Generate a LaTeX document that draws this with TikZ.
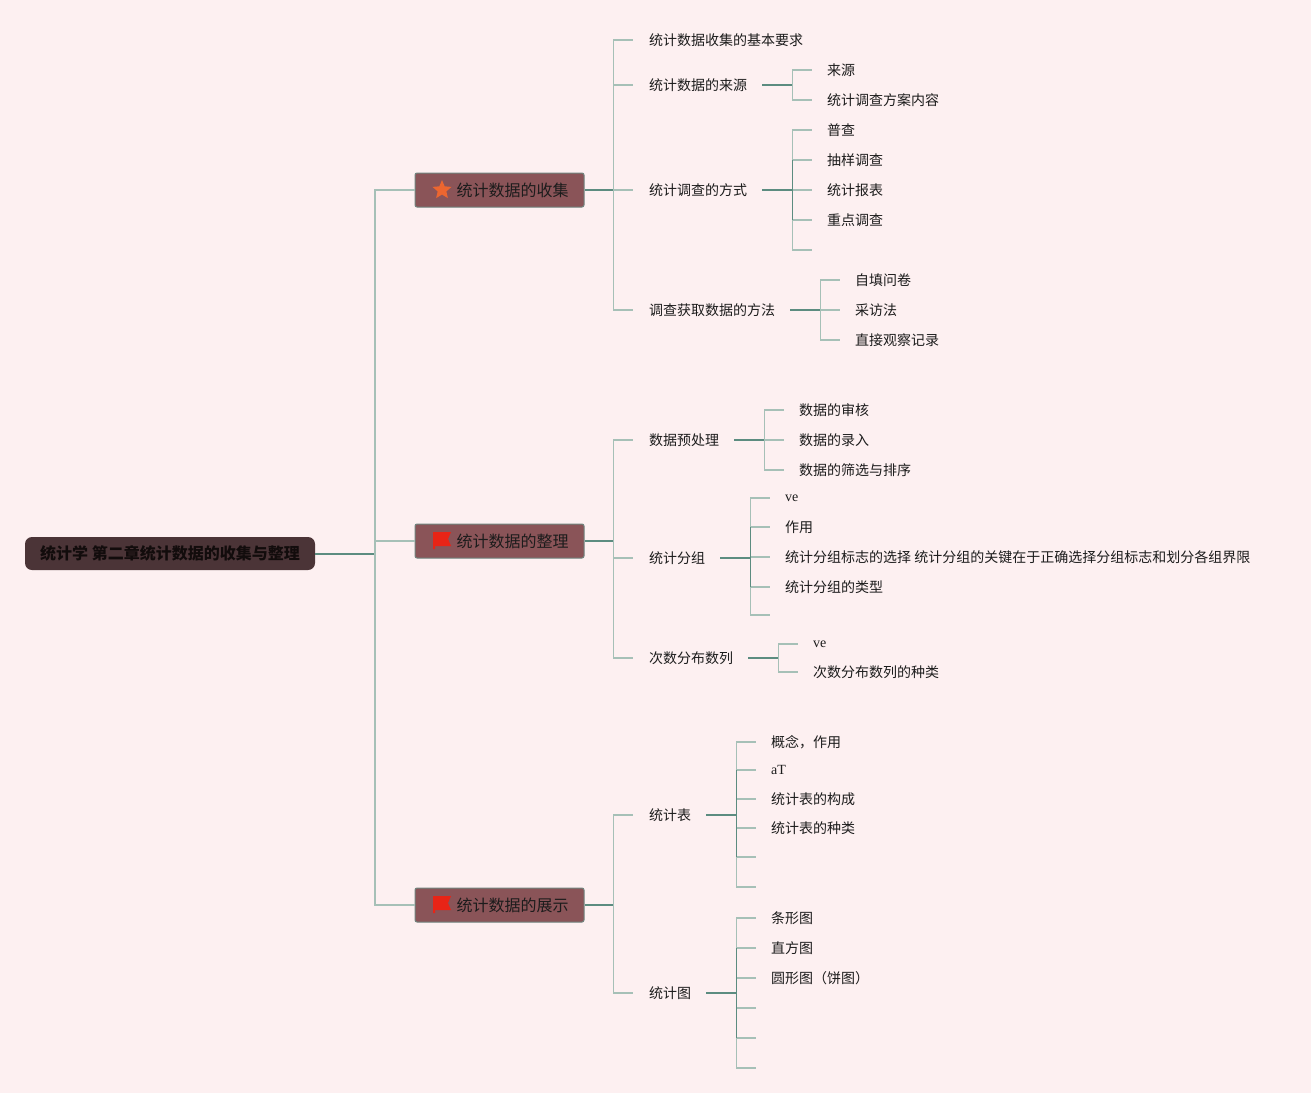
\documentclass[tikz,border=0pt]{standalone}
\usepackage{fontspec}
\setmainfont{Noto Sans CJK SC}
\newfontfamily\latinserif{Liberation Serif}
\usetikzlibrary{shapes.geometric}
\definecolor{bg}{RGB}{253,240,241}
\definecolor{lineL}{RGB}{166,192,183}
\definecolor{lineD}{RGB}{92,140,128}
\definecolor{rootF}{RGB}{75,52,55}
\definecolor{lvF}{RGB}{138,84,88}
\definecolor{lvD}{RGB}{112,132,126}
\definecolor{txt}{RGB}{28,28,28}
\definecolor{rtxt}{RGB}{18,12,12}
\definecolor{starC}{RGB}{236,102,48}
\definecolor{flagC}{RGB}{232,36,22}
\tikzset{
  t/.style={anchor=west, inner sep=0pt, text=txt, font=\fontsize{14}{16}\selectfont},
  lt/.style={draw=lineL, line width=1.4pt},
  dk/.style={draw=lineD, line width=2pt},
  dkv/.style={draw=lineD, line width=1.4pt},
  rootbox/.style={fill=rootF, rounded corners=7pt, minimum width=290pt, minimum height=33pt, inner sep=0pt, text=rtxt, font=\fontsize{16}{18}\selectfont\bfseries},
  lvbox/.style={fill=lvF, draw=lvD, line width=1pt, rounded corners=2pt, minimum width=169pt, minimum height=34pt, inner xsep=15.5pt, inner ysep=0pt, text=txt, font=\fontsize{16}{18}\selectfont},
}
\begin{document}
\begin{tikzpicture}[x=1pt,y=-1pt]
\fill[bg] (0,0) rectangle (1311,1093);
\useasboundingbox (0,0) rectangle (1311,1093);

% root and level 1
\node[rootbox] (root) at (170,553.5) {统计学 第二章统计数据的收集与整理};
\node[lvbox] (L1) at (499.5,190) {\hspace*{26pt}统计数据的收集};
\node[lvbox] (L2) at (499.5,541) {\hspace*{26pt}统计数据的整理};
\node[lvbox] (L3) at (499.5,905) {\hspace*{26pt}统计数据的展示};
\node[star, star points=5, star point ratio=2.2, fill=starC, minimum size=20pt, inner sep=0pt] (st) at (442,190) {};
\fill[flagC] (433,532) -- (451,532) -- (448,539) -- (451,546) -- (435,546) -- (435,549) -- (433,549) -- cycle;
\fill[flagC] (433,896) -- (451,896) -- (448,903) -- (451,910) -- (435,910) -- (435,913) -- (433,913) -- cycle;

\coordinate (rb) at (375,553.5);
\draw[dk] (root.east) -- (rb);
\foreach \c in {L1,L2,L3} { \draw[lt] (rb) |- (\c.west); }

% group 1
\node[t] (a1) at (649,40) {统计数据收集的基本要求};
\node[t] (a2) at (649,85) {统计数据的来源};
\node[t] (a3) at (649,190) {统计调查的方式};
\node[t] (a4) at (649,310) {调查获取数据的方法};
\node[t] (a21) at (827,70) {来源};
\node[t] (a22) at (827,100) {统计调查方案内容};
\node[t] (a31) at (827,130) {普查};
\node[t] (a32) at (827,160) {抽样调查};
\node[t] (a33) at (827,190) {统计报表};
\node[t] (a34) at (827,220) {重点调查};
\coordinate (a35) at (812,250);
\node[t] (a41) at (855,280) {自填问卷};
\node[t] (a42) at (855,310) {采访法};
\node[t] (a43) at (855,340) {直接观察记录};

% group 2
\node[t] (b1) at (649,440) {数据预处理};
\node[t] (b2) at (649,558) {统计分组};
\node[t] (b3) at (649,658) {次数分布数列};
\node[t] (b11) at (799,410) {数据的审核};
\node[t] (b12) at (799,440) {数据的录入};
\node[t] (b13) at (799,470) {数据的筛选与排序};
\node[t] (b21) at (785,498) {\latinserif ve};
\node[t] (b22) at (785,527) {作用};
\node[t] (b23) at (785,557) {统计分组标志的选择 统计分组的关键在于正确选择分组标志和划分各组界限};
\node[t] (b24) at (785,587) {统计分组的类型};
\coordinate (b25) at (770,615);
\node[t] (b31) at (813,644) {\latinserif ve};
\node[t] (b32) at (813,672) {次数分布数列的种类};

% group 3
\node[t] (c1) at (649,815) {统计表};
\node[t] (c2) at (649,993) {统计图};
\node[t] (c11) at (771,742) {概念，作用};
\node[t] (c12) at (771,770) {\latinserif aT};
\node[t] (c13) at (771,799) {统计表的构成};
\node[t] (c14) at (771,828) {统计表的种类};
\coordinate (c15) at (756,857);
\coordinate (c16) at (756,887);
\node[t] (c21) at (771,918) {条形图};
\node[t] (c22) at (771,948) {直方图};
\node[t] (c23) at (771,978) {圆形图（饼图）};
\coordinate (c24) at (756,1008);
\coordinate (c25) at (756,1038);
\coordinate (c26) at (756,1068);

% level1 -> level2
\foreach \p/\cs in {L1/{a1,a2,a3,a4}, L2/{b1,b2,b3}, L3/{c1,c2}} {
  \draw[dk] (\p.east) -- ([xshift=29pt]\p.east);
  \foreach \c in \cs { \draw[lt] ([xshift=29pt]\p.east) |- ([xshift=-16pt]\c.west); }
}

% level2 -> level3 (text children)
\foreach \p/\cs in {a2/{a21,a22}, a3/{a31,a32,a33,a34}, a4/{a41,a42,a43},
                    b1/{b11,b12,b13}, b2/{b21,b22,b23,b24}, b3/{b31,b32},
                    c1/{c11,c12,c13,c14}, c2/{c21,c22,c23}} {
  \draw[dk] ([xshift=15pt]\p.east) -- ([xshift=45pt]\p.east);
  \foreach \c in \cs { \draw[lt] ([xshift=45pt]\p.east) |- ([xshift=-15pt]\c.west); }
}
% empty children
\foreach \p/\c in {a3/a35, b2/b25, c1/c15, c1/c16, c2/c24, c2/c25, c2/c26} {
  \draw[lt] ([xshift=45pt]\p.east) |- (\c);
}
% darker middle of the brackets
\draw[dkv] ([xshift=45pt]a3.east |- a32.west) -- ([xshift=45pt]a3.east |- a34.west);
\draw[dkv] ([xshift=45pt]b2.east |- b22.west) -- ([xshift=45pt]b2.east |- b24.west);
\draw[dkv] ([xshift=45pt]c1.east |- c12.west) -- ([xshift=45pt]c1.east |- c15);
\draw[dkv] ([xshift=45pt]c2.east |- c22.west) -- ([xshift=45pt]c2.east |- c25);
\draw[dk] ([xshift=15pt]a3.east) -- ([xshift=45pt]a3.east);
\draw[dk] ([xshift=15pt]b2.east) -- ([xshift=45pt]b2.east);
\draw[dk] ([xshift=15pt]c1.east) -- ([xshift=45pt]c1.east);
\draw[dk] ([xshift=15pt]c2.east) -- ([xshift=45pt]c2.east);
\end{tikzpicture}
\end{document}
